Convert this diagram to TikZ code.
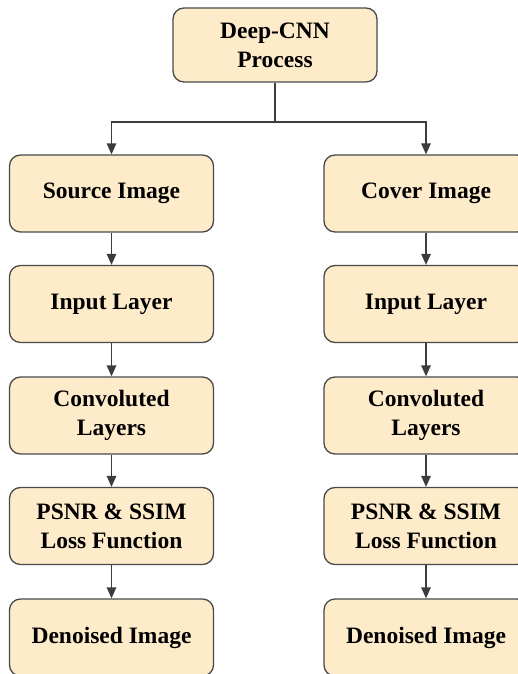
\documentclass[tikz,border=0pt]{standalone}
\usepackage{fontspec}
\setmainfont{Liberation Serif}
\usetikzlibrary{arrows.meta}
\definecolor{boxfill}{HTML}{FDEBC9}
\definecolor{boxline}{HTML}{4A4A4A}
\definecolor{conn}{HTML}{3C3C3C}
\begin{document}
\begin{tikzpicture}[x=1pt,y=1pt,
  stepbox/.style={draw=boxline, line width=1.3pt, fill=boxfill, rounded corners=11pt,
    minimum width=204pt, minimum height=77pt, align=center,
    font=\fontsize{23.5}{29}\selectfont\bfseries, inner sep=0pt},
  conn/.style={draw=conn, line width=1.3pt},
  arr/.style={conn, -{Triangle[length=11pt,width=9.5pt]}}]
\clip (0,0) rectangle (518,-674);
\useasboundingbox (0,0) rectangle (518,-674);
\fill[white] (0,0) rectangle (518,-674);
\node[stepbox, minimum height=74pt] (top) at (275,-45) {Deep-CNN\\Process};
% left column
\node[stepbox] (l1) at (111.5,-193.5) {Source Image};
\node[stepbox] (l2) at (111.5,-304) {Input Layer};
\node[stepbox] (l3) at (111.5,-415.5) {Convoluted\\Layers};
\node[stepbox] (l4) at (111.5,-526) {PSNR \& SSIM\\Loss Function};
\node[stepbox] (l5) at (111.5,-637.5) {Denoised Image};
% right column
\node[stepbox] (r1) at (426,-193.5) {Cover Image};
\node[stepbox] (r2) at (426,-304) {Input Layer};
\node[stepbox] (r3) at (426,-415.5) {Convoluted\\Layers};
\node[stepbox] (r4) at (426,-526) {PSNR \& SSIM\\Loss Function};
\node[stepbox] (r5) at (426,-637.5) {Denoised Image};
\coordinate (split) at (275,-122);
\draw[conn] (top.south) -- (split);
\draw[arr] (split) -| (l1.north);
\draw[arr] (split) -| (r1.north);
\foreach \c in {l,r}{
  \draw[arr] (\c1.south) -- (\c2.north);
  \draw[arr] (\c2.south) -- (\c3.north);
  \draw[arr] (\c3.south) -- (\c4.north);
  \draw[arr] (\c4.south) -- (\c5.north);
}
\end{tikzpicture}
\end{document}
